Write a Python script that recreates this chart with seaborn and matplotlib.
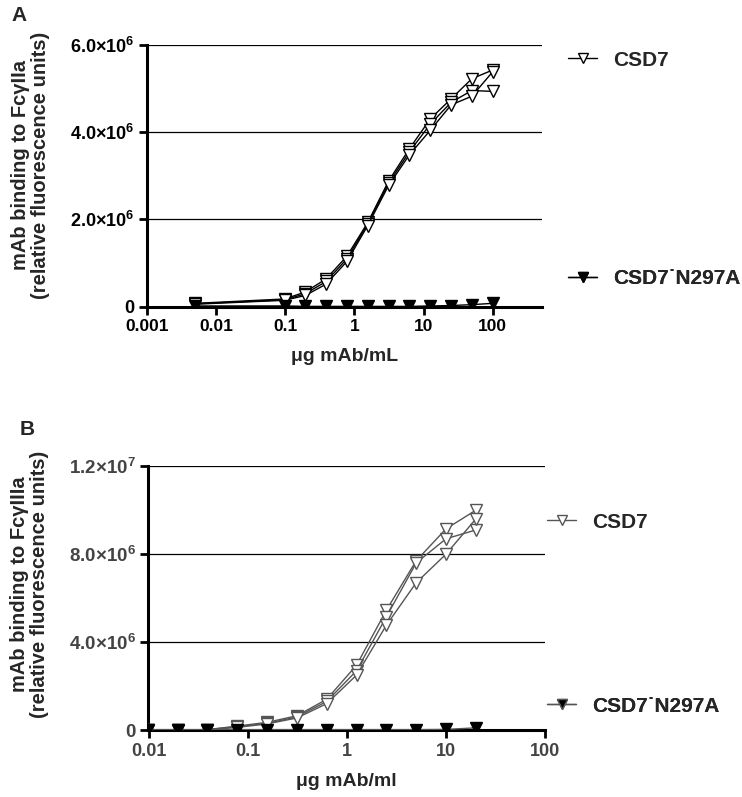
import numpy as np
import pandas as pd
import matplotlib
matplotlib.use("Agg")
import matplotlib.pyplot as plt
import seaborn as sns
from matplotlib.lines import Line2D

sns.set_style("white")
plt.rcParams["font.family"] = ["Liberation Sans", "DejaVu Sans"]
plt.rcParams["font.weight"] = "bold"
plt.rcParams["mathtext.fontset"] = "custom"
plt.rcParams["mathtext.rm"] = "Liberation Sans:bold"
plt.rcParams["mathtext.bf"] = "Liberation Sans:bold"
plt.rcParams["mathtext.default"] = "bf"

# Panel A: FcgRIIa binding (three replicate curves for CSD7)
conc_a = [0.005, 0.098, 0.195, 0.39, 0.78, 1.56, 3.125, 6.25, 12.5, 25, 50, 100]
csd7_a_r1 = [0.08, 0.18, 0.34, 0.64, 1.16, 1.93, 2.88, 3.62, 4.30, 4.76, 5.22, 5.42]
csd7_a_r2 = [0.07, 0.16, 0.30, 0.58, 1.10, 1.90, 2.83, 3.55, 4.18, 4.68, 4.95, 4.93]
csd7_a_r3 = [0.06, 0.15, 0.26, 0.52, 1.04, 1.86, 2.78, 3.48, 4.04, 4.62, 4.82, 5.38]
n297a_a = [0.02, 0.02, 0.01, 0.01, 0.01, 0.01, 0.01, 0.01, 0.02, 0.03, 0.05, 0.08]

# Panel B: FcgRIIIa binding
conc_b = [0.0098, 0.0195, 0.039, 0.078, 0.156, 0.3125, 0.625, 1.25, 2.5, 5, 10, 20]
csd7_b_r1 = [0.0, 0.0, 0.02, 0.18, 0.35, 0.65, 1.40, 2.95, 5.45, 7.70, 9.15, 10.0]
csd7_b_r2 = [0.0, 0.0, 0.02, 0.15, 0.30, 0.60, 1.30, 2.70, 5.15, 7.60, 8.70, 9.10]
csd7_b_r3 = [0.0, 0.0, 0.01, 0.12, 0.28, 0.55, 1.20, 2.50, 4.77, 6.70, 8.00, 9.60]
n297a_b = [0.02, 0.02, 0.02, 0.02, 0.02, 0.02, 0.02, 0.02, 0.02, 0.02, 0.03, 0.10]


def long_df(conc, reps):
    rows = []
    for i, r in enumerate(reps):
        for c, v in zip(conc, r):
            rows.append({"conc": c, "val": v * 1e6, "rep": i})
    return pd.DataFrame(rows)


df_a = long_df(conc_a, [csd7_a_r1, csd7_a_r2, csd7_a_r3])
df_an = long_df(conc_a, [n297a_a])
df_b = long_df(conc_b, [csd7_b_r1, csd7_b_r2, csd7_b_r3])
df_bn = long_df(conc_b, [n297a_b])

fig = plt.figure(figsize=(7.42, 7.97), dpi=100)
ax_a = fig.add_axes([0.198, 0.615, 0.532, 0.329])
ax_b = fig.add_axes([0.1995, 0.084, 0.535, 0.331])


def draw(ax, df, dfn, col, ymax, yticks, ylabels, xlim, xticks, xlabels, xlabel, ylabel,
         tickcol, xfs, yfs, lab_xy):
    sns.lineplot(data=df, x="conc", y="val", units="rep", estimator=None, ax=ax,
                 color=col, lw=1.0, marker="v", ms=9, mfc="white", mec=col, mew=1.0,
                 legend=False, zorder=3)
    sns.lineplot(data=dfn, x="conc", y="val", units="rep", estimator=None, ax=ax,
                 color=col, lw=1.0, marker="v", ms=9, mfc="black", mec="black", mew=1.0,
                 legend=False, zorder=4)
    ax.set_xscale("log")
    ax.set_xlim(*xlim)
    ax.set_ylim(0, ymax)
    ax.set_xticks(xticks)
    ax.set_xticklabels(xlabels, fontsize=xfs, fontweight="bold", color=tickcol)
    ax.minorticks_off()
    ax.set_yticks(yticks)
    ax.set_yticklabels(ylabels, fontsize=yfs, fontweight="bold", color=tickcol)
    ax.yaxis.grid(True, color="black", lw=0.9)
    ax.set_axisbelow(True)
    for s in ["top", "right"]:
        ax.spines[s].set_visible(False)
    for s in ["left", "bottom"]:
        ax.spines[s].set_color("black")
        ax.spines[s].set_linewidth(2.2)
    ax.tick_params(axis="both", direction="out", length=6, width=2, color="black", pad=3,
                   bottom=True, left=True)
    ax.set_xlabel(xlabel, fontsize=14, fontweight="bold", labelpad=10)
    ax.set_ylabel(ylabel, fontsize=14.5, fontweight="bold", linespacing=1.05)
    ax.yaxis.set_label_coords(*lab_xy)


draw(ax_a, df_a, df_an, "black", 6e6, [0, 2e6, 4e6, 6e6],
     ["0", "2.0×10$^{6}$", "4.0×10$^{6}$", "6.0×10$^{6}$"],
     (0.001, 510), [0.001, 0.01, 0.1, 1, 10, 100], ["0.001", "0.01", "0.1", "1", "10", "100"],
     "μg mAb/mL", "mAb binding to FcγIIa\n(relative fluorescence units)", "black",
     12.5, 13, (-0.246, 0.54))

draw(ax_b, df_b, df_bn, "#555555", 1.2e7, [0, 4e6, 8e6, 1.2e7],
     ["0", "4.0×10$^{6}$", "8.0×10$^{6}$", "1.2×10$^{7}$"],
     (0.0098, 100), [0.01, 0.1, 1, 10, 100], ["0.01", "0.1", "1", "10", "100"],
     "μg mAb/ml", "mAb binding to FcγIIIa\n(relative fluorescence units)", "#444444",
     13, 13.5, (-0.249, 0.553))

fig.text(0.016, 0.992, "A", fontsize=15, fontweight="bold", va="top")
fig.text(0.026, 0.473, "B", fontsize=15, fontweight="bold", va="top")


def add_leg(ax, label, mfc, col, y, x):
    h = Line2D([], [], color=col, lw=1.0, marker="v", ms=7, mfc=mfc, mec=col)
    leg = ax.legend([h], [label], loc="center left", bbox_to_anchor=(x, y),
                    bbox_transform=fig.transFigure, frameon=False, handlelength=1.4,
                    handletextpad=0.75, borderaxespad=0, borderpad=0,
                    prop={"weight": "bold", "size": 15})
    ax.add_artist(leg)


add_leg(ax_a, "CSD7", "white", "black", 1 - 60 / 797, 568 / 742)
add_leg(ax_a, "CSD7˙N297A", "black", "black", 1 - 279 / 797, 568 / 742)
add_leg(ax_b, "CSD7", "white", "#555555", 1 - 522 / 797, 547 / 742)
add_leg(ax_b, "CSD7˙N297A", "black", "#555555", 1 - 706 / 797, 547 / 742)

fig.savefig("out.png", dpi=100)
